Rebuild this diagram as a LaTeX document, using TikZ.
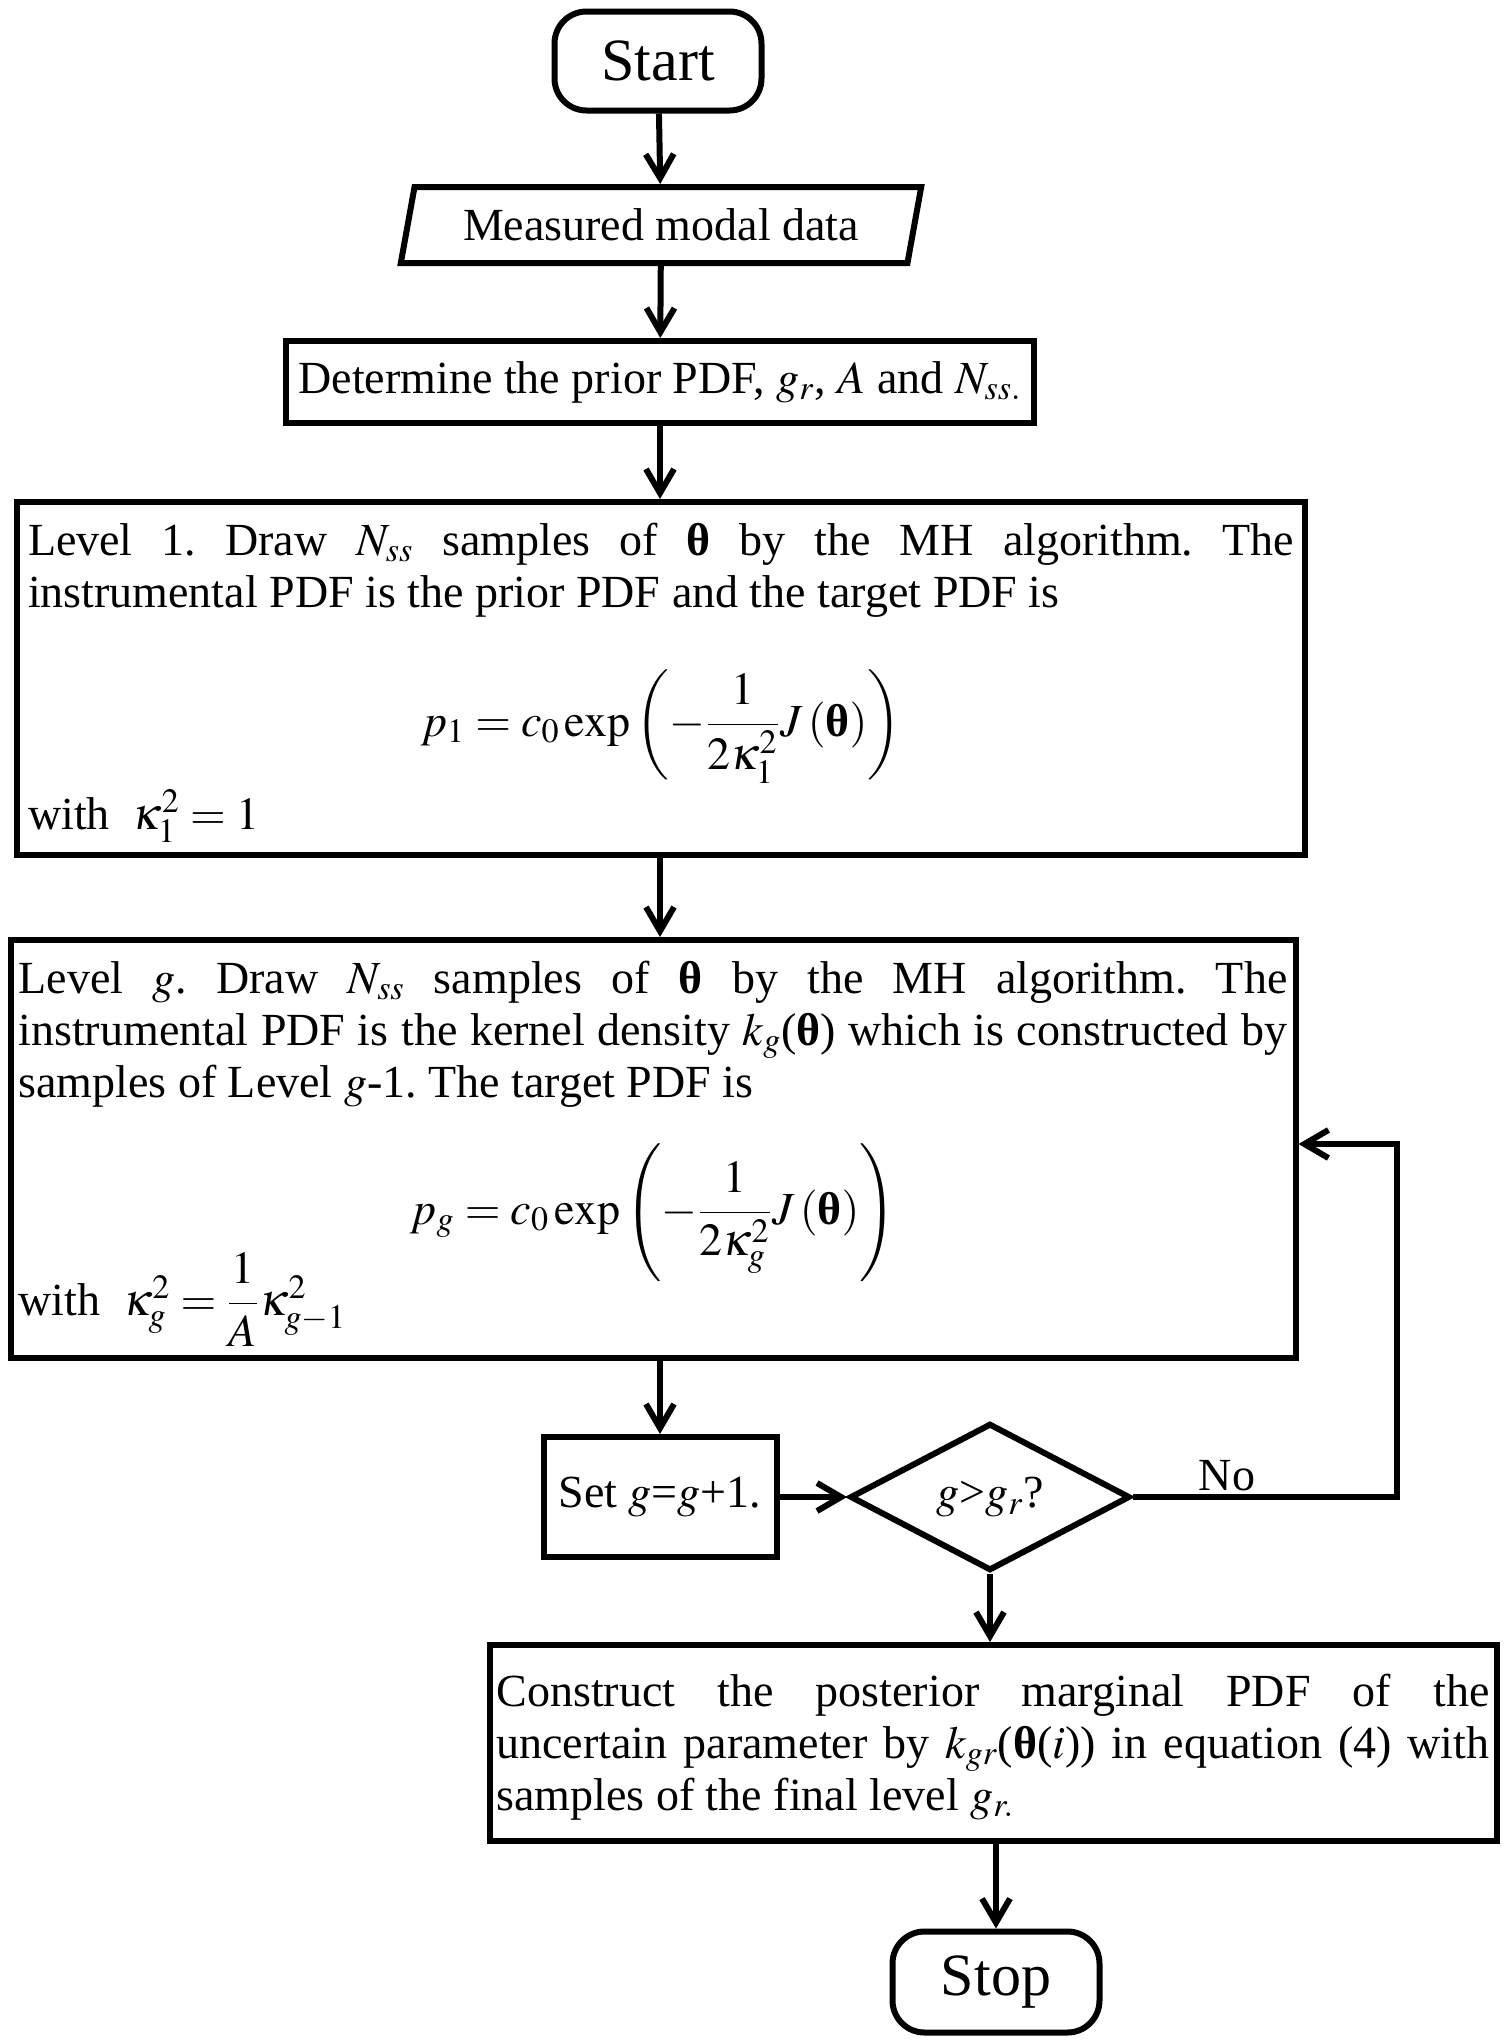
\documentclass[tikz,border=0pt]{standalone}
\usepackage{amsmath}
\usepackage{mathptmx}
\usepackage[no-math]{fontspec}
\setmainfont{Liberation Serif}
\usetikzlibrary{calc,shapes.geometric,arrows.meta,positioning}

\newcommand{\testo}{\fontsize{23}{26}\selectfont\frenchspacing}
\newcommand{\grande}{\fontsize{30}{36}\selectfont}
\newcommand{\btheta}{\textbf{θ}}

\tikzset{
  blocco/.style={draw, line width=3pt, rectangle, inner sep=0pt, font=\testo},
  terminale/.style={draw, line width=3pt, rectangle, rounded corners=16pt,
    minimum width=207\unita, minimum height=99\unita, font=\grande},
  dati/.style={draw, line width=3pt, trapezium, trapezium left angle=76,
    trapezium right angle=104, trapezium stretches=true, font=\testo},
  decisione/.style={draw, line width=3pt, diamond, inner sep=0pt, font=\testo},
  freccia/.style={line width=3pt, -{Straight Barb[length=12pt,width=14pt,line width=3pt]}},
}

\begin{document}
\begin{tikzpicture}
  \newlength{\unita}
  \setlength{\unita}{0.5pt}
  \tikzset{x=\unita, y=-\unita}
  \useasboundingbox (0,0) rectangle (1505,2042);

  % inizio e dati
  \node[terminale] (Start) at (658,61) {Start};
  \node[dati, minimum width=521\unita, minimum height=76\unita] (Dati) at (661,225) {Measured modal data};
  \node[blocco, minimum width=748\unita, minimum height=82\unita, font=\fontsize{23}{28}\selectfont] (Priori) at (660,382)
    {Determine the prior PDF, $g_r$, $A$ and $N_{ss.}$};

  % livello 1
  \node[blocco, text width=1266\unita, inner xsep=11\unita, text height=53\unita, text depth=300\unita, align=justify] (Livello1) at (661,678.5) {%
    Level 1. Draw $N_{ss}$ samples of \btheta{} by the MH algorithm. The\linebreak
    instrumental PDF is the prior PDF and the target PDF is\par
    \vspace{38.5pt}
    \centerline{\smash{$p_1 = c_0\exp\left(-\dfrac{1}{2\kappa_1^2}J\left(\mbox{\btheta}\right)\right)$}}
    \vspace{20.5pt}
    with\ \ \smash{$\kappa_1^2 = 1$}};

  % livello g
  \node[blocco, text width=1269\unita, inner xsep=8\unita, text height=53\unita, text depth=365\unita, align=justify] (LivelloG) at (653,1149) {%
    Level $g$. Draw $N_{ss}$ samples of \btheta{} by the MH algorithm. The\linebreak
    instrumental PDF is the kernel density $k_g$(\btheta) which is constructed by\linebreak
    samples of Level $g$-1. The target PDF is\par
    \vspace{37.5pt}
    \centerline{\smash{$p_g = c_0\exp\left(-\dfrac{1}{2\kappa_g^2}J\left(\mbox{\btheta}\right)\right)$}}
    \vspace{19.5pt}
    with\ \ \smash{$\kappa_g^2 = \dfrac{1}{A}\kappa_{g-1}^2$}};

  % ciclo
  \node[blocco, minimum width=233\unita, minimum height=120\unita] (Incremento) at (660,1497) {Set $g$=$g$+1.};
  \node[decisione, minimum width=280\unita, minimum height=140\unita] (Controllo) at (990,1497) {$g$>$g_r$?};
  \coordinate (Ritorno) at (1397,1144);
  \node[font=\testo] (EtichettaNo) at (1227,1476) {No};

  % fine
  \node[blocco, text width=993\unita, inner xsep=7\unita, text height=61\unita, text depth=135\unita, align=justify] (Costruzione) at (993,1743) {%
    Construct the posterior marginal PDF of the\linebreak
    uncertain parameter by $k_{gr}$(\btheta($i$)) in equation (4) with\linebreak
    samples of the final level $g_{r.}$};
  \node[terminale, minimum height=101\unita] (Stop) at (996,1982) {Stop};

  % frecce
  \draw[freccia] (Start) -- (Dati);
  \draw[freccia] (Dati) -- (Priori);
  \draw[freccia] (Priori) -- (Priori |- Livello1.north);
  \draw[freccia] (Livello1.south -| Priori) -- (LivelloG.north -| Priori);
  \draw[freccia] (LivelloG.south -| Incremento.north) -- (Incremento.north);
  \draw[freccia] (Incremento.east) -- (Controllo.west);
  \draw[freccia] (Controllo.east) -| (Ritorno) -- (Ritorno -| LivelloG.east);
  \draw[freccia] (Controllo.south) -- (Controllo.south |- Costruzione.north);
  \draw[freccia] (Stop.north |- Costruzione.south) -- (Stop.north);
\end{tikzpicture}
\end{document}
